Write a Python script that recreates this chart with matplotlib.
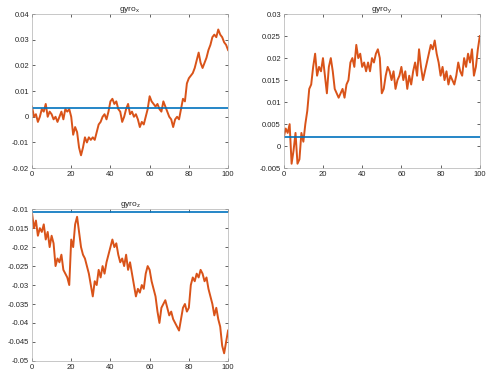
import matplotlib
matplotlib.use("Agg")
import matplotlib.pyplot as plt
from matplotlib.ticker import FuncFormatter, MultipleLocator

# time axis (s)
t = list(range(0, 101))

# gyro readings
gyro_x = [0.004, 0.000, 0.001, -0.002, 0.000, 0.003, 0.002, 0.005, 0.000, 0.002,
          0.001, -0.001, 0.000, -0.002, 0.000, 0.002, -0.001, 0.003, 0.002, 0.003,
          0.000, -0.007, -0.004, -0.006, -0.012, -0.015, -0.012, -0.008, -0.010, -0.008,
          -0.009, -0.008, -0.009, -0.006, -0.003, -0.002, 0.000, 0.001, -0.001, 0.002,
          0.006, 0.007, 0.005, 0.006, 0.003, 0.002, -0.002, 0.000, 0.003, 0.005,
          0.001, 0.002, 0.000, 0.001, -0.001, -0.004, -0.002, -0.003, 0.000, 0.003,
          0.008, 0.006, 0.005, 0.004, 0.005, 0.003, 0.002, 0.006, 0.004, 0.002,
          0.000, -0.001, -0.004, -0.001, 0.000, -0.001, 0.003, 0.007, 0.006, 0.013,
          0.015, 0.016, 0.017, 0.019, 0.022, 0.025, 0.021, 0.019, 0.021, 0.023,
          0.026, 0.028, 0.031, 0.032, 0.031, 0.034, 0.032, 0.031, 0.029, 0.028,
          0.026]
gyro_y = [0.002, 0.004, 0.003, 0.005, -0.004, -0.001, 0.003, -0.004, -0.003, 0.003,
          0.001, 0.005, 0.008, 0.013, 0.014, 0.018, 0.021, 0.016, 0.018, 0.017,
          0.020, 0.016, 0.012, 0.018, 0.020, 0.017, 0.013, 0.012, 0.011, 0.012,
          0.013, 0.011, 0.014, 0.015, 0.019, 0.020, 0.018, 0.023, 0.020, 0.021,
          0.018, 0.019, 0.017, 0.019, 0.017, 0.020, 0.019, 0.021, 0.022, 0.020,
          0.012, 0.013, 0.016, 0.018, 0.017, 0.015, 0.017, 0.013, 0.015, 0.016,
          0.018, 0.015, 0.017, 0.013, 0.016, 0.014, 0.017, 0.019, 0.016, 0.022,
          0.018, 0.015, 0.017, 0.019, 0.021, 0.023, 0.022, 0.024, 0.021, 0.019,
          0.016, 0.018, 0.015, 0.017, 0.014, 0.016, 0.015, 0.014, 0.016, 0.019,
          0.017, 0.016, 0.020, 0.018, 0.021, 0.019, 0.022, 0.016, 0.018, 0.022,
          0.025]
gyro_z = [-0.011, -0.015, -0.013, -0.017, -0.015, -0.016, -0.014, -0.018, -0.016, -0.020,
          -0.017, -0.019, -0.025, -0.023, -0.024, -0.022, -0.026, -0.027, -0.028, -0.030,
          -0.018, -0.020, -0.014, -0.012, -0.016, -0.020, -0.022, -0.023, -0.025, -0.027,
          -0.030, -0.033, -0.029, -0.030, -0.026, -0.028, -0.025, -0.027, -0.024, -0.022,
          -0.020, -0.018, -0.020, -0.019, -0.022, -0.024, -0.023, -0.025, -0.022, -0.026,
          -0.024, -0.027, -0.030, -0.033, -0.031, -0.032, -0.030, -0.031, -0.027, -0.025,
          -0.026, -0.029, -0.031, -0.033, -0.037, -0.040, -0.036, -0.035, -0.034, -0.036,
          -0.038, -0.037, -0.039, -0.040, -0.041, -0.042, -0.039, -0.036, -0.035, -0.037,
          -0.036, -0.030, -0.028, -0.029, -0.027, -0.028, -0.026, -0.027, -0.029, -0.028,
          -0.031, -0.033, -0.035, -0.038, -0.036, -0.039, -0.041, -0.046, -0.048, -0.045,
          -0.042]

# estimated bias (blue line)
bias = [0.0035, 0.0021, -0.0107]

titles = [r"gyro$_{\mathregular{x}}$", r"gyro$_{\mathregular{y}}$", r"gyro$_{\mathregular{z}}$"]
ylims = [(-0.02, 0.04), (-0.005, 0.03), (-0.05, -0.01)]
ysteps = [0.01, 0.005, 0.005]

plt.rcParams["font.family"] = ["Liberation Sans", "DejaVu Sans"]
plt.rcParams["mathtext.fontset"] = "custom"
plt.rcParams["mathtext.rm"] = "Liberation Sans"
plt.rcParams["mathtext.it"] = "Liberation Sans"

fig = plt.figure(figsize=(5.04, 3.91), dpi=100)
positions = [
    [0.0635, 0.570, 0.389, 0.394],
    [0.563, 0.570, 0.389, 0.394],
    [0.0635, 0.077, 0.389, 0.388],
]

fmt = FuncFormatter(lambda v, p: "%g" % (round(v, 6) + 0.0))

for i, data in enumerate([gyro_x, gyro_y, gyro_z]):
    ax = fig.add_axes(positions[i])
    ax.plot(t, data, color="#D95319", linewidth=1.4)
    ax.plot(t, [bias[i]] * len(t), color="#0072BD", linewidth=1.2)
    ax.set_xlim(0, 100)
    ax.set_ylim(*ylims[i])
    ax.xaxis.set_major_locator(MultipleLocator(20))
    ax.yaxis.set_major_locator(MultipleLocator(ysteps[i]))
    ax.yaxis.set_major_formatter(fmt)
    ax.tick_params(direction="in", length=2, width=0.5, labelsize=5.5,
                   colors="#262626", top=True, right=True, pad=2)
    for s in ax.spines.values():
        s.set_color("#b0b0b0")
        s.set_linewidth(0.5)
    ax.set_title(titles[i], fontsize=6, color="#262626", pad=2)

plt.savefig("out.png", dpi=100)
plt.close()
